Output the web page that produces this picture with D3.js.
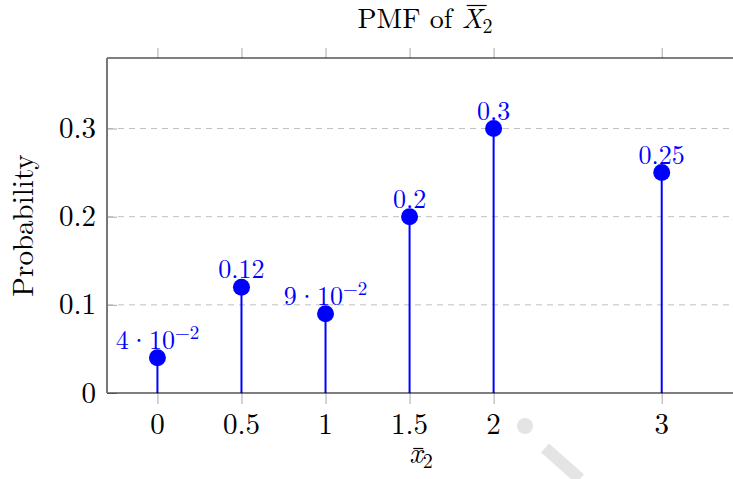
<!DOCTYPE html>
<html>
<head>
<meta charset="utf-8">
<script src="https://cdn.jsdelivr.net/npm/d3@7"></script>
<style>
  body { margin: 0; background: #fff; }
  text { font-family: "Latin Modern Roman", "CMU Serif", "DejaVu Serif", serif; }
</style>
</head>
<body>
<div id="wrapper"></div>
<script>
// data
const xValues = [0, 0.5, 1, 1.5, 2, 3]
const probabilities = [0.04, 0.12, 0.09, 0.2, 0.3, 0.25]
const pointLabels = [["4·10", "−2"], ["0.12"], ["9·10", "−2"], ["0.2"], ["0.3"], ["0.25"]]
const xTicks = [0, 0.5, 1, 1.5, 2, 3]
const yTicks = [0, 0.1, 0.2, 0.3]

const dataset = xValues.map((x, i) => ({ x, p: probabilities[i], label: pointLabels[i] }))

const dimensions = {
  width: 733,
  height: 479,
  margin: { top: 58, right: -80, bottom: 86, left: 107 },
}
dimensions.boundedWidth = dimensions.width - dimensions.margin.left - dimensions.margin.right
dimensions.boundedHeight = dimensions.height - dimensions.margin.top - dimensions.margin.bottom

const svg = d3.select("#wrapper")
  .append("svg")
    .attr("width", dimensions.width)
    .attr("height", dimensions.height)

const bounds = svg.append("g")
    .attr("transform", `translate(${dimensions.margin.left}, ${dimensions.margin.top})`)

// scales
const xScale = d3.scaleLinear()
  .domain([-0.3, 3.9])
  .range([0, dimensions.boundedWidth])

const yScale = d3.scaleLinear()
  .domain([0, 0.38])
  .range([dimensions.boundedHeight, 0])

const blue = "#0000ff"
const tickGray = "#a8a8a8"
const tickFont = "29px"
const labelFont = "26px"

// grid lines
bounds.append("g")
  .selectAll("line")
  .data(yTicks.filter(d => d > 0))
  .join("line")
    .attr("x1", 0)
    .attr("x2", dimensions.boundedWidth)
    .attr("y1", d => yScale(d))
    .attr("y2", d => yScale(d))
    .attr("stroke", "#c0c0c0")
    .attr("stroke-width", 1)
    .attr("stroke-dasharray", "6 5")

// y ticks (inside)
const yAxis = bounds.append("g")
  .call(d3.axisRight(yScale).tickValues(yTicks).tickSize(10).tickFormat(""))
yAxis.select(".domain").remove()
yAxis.selectAll(".tick line").attr("stroke", tickGray)

// y tick labels
bounds.append("g")
  .selectAll("text")
  .data(yTicks)
  .join("text")
    .attr("x", -11)
    .attr("y", d => yScale(d))
    .attr("dy", "0.33em")
    .attr("text-anchor", "end")
    .style("font-size", tickFont)
    .text(d => d === 0 ? "0" : d3.format(".1f")(d))

// x ticks bottom (outside) and top (outside)
const xBottom = bounds.append("g")
  .attr("transform", `translate(0, ${dimensions.boundedHeight})`)
  .call(d3.axisBottom(xScale).tickValues(xTicks).tickSize(11).tickFormat(""))
xBottom.select(".domain").remove()
xBottom.selectAll(".tick line").attr("stroke", tickGray)

const xTop = bounds.append("g")
  .call(d3.axisTop(xScale).tickValues(xTicks).tickSize(10).tickFormat(""))
xTop.select(".domain").remove()
xTop.selectAll(".tick line").attr("stroke", tickGray)

bounds.append("g")
  .selectAll("text")
  .data(xTicks)
  .join("text")
    .attr("x", d => xScale(d))
    .attr("y", dimensions.boundedHeight + 41)
    .attr("text-anchor", "middle")
    .style("font-size", tickFont)
    .text(d => d)

// stems
bounds.append("g")
  .selectAll("line")
  .data(dataset)
  .join("line")
    .attr("x1", d => xScale(d.x))
    .attr("x2", d => xScale(d.x))
    .attr("y1", dimensions.boundedHeight)
    .attr("y2", d => yScale(d.p))
    .attr("stroke", blue)
    .attr("stroke-width", 2)

// frame
bounds.append("line")
  .attr("x1", 0).attr("x2", dimensions.boundedWidth)
  .attr("y1", 0).attr("y2", 0)
  .attr("stroke", "#000").attr("stroke-width", 1.2)
bounds.append("line")
  .attr("x1", 0).attr("x2", dimensions.boundedWidth)
  .attr("y1", dimensions.boundedHeight).attr("y2", dimensions.boundedHeight)
  .attr("stroke", "#000").attr("stroke-width", 1.2)
bounds.append("line")
  .attr("x1", 0).attr("x2", 0)
  .attr("y1", 0).attr("y2", dimensions.boundedHeight)
  .attr("stroke", "#777").attr("stroke-width", 2)

// markers
bounds.append("g")
  .selectAll("circle")
  .data(dataset)
  .join("circle")
    .attr("cx", d => xScale(d.x))
    .attr("cy", d => yScale(d.p))
    .attr("r", 8.5)
    .attr("fill", blue)

// point labels
const labels = bounds.append("g")
  .selectAll("text")
  .data(dataset)
  .join("text")
    .attr("x", d => xScale(d.x))
    .attr("y", d => yScale(d.p) - 9)
    .attr("text-anchor", "middle")
    .attr("fill", blue)
    .style("font-size", labelFont)
labels.append("tspan").text(d => d.label[0])
labels.filter(d => d.label.length > 1)
  .append("tspan")
    .attr("dy", -10)
    .style("font-size", "19px")
    .text(d => d.label[1])

// draw a bar (accent) over a tspan, at a given height
function addBar(tspan, y, shift, trim) {
  const b = tspan.node().getBBox()
  svg.append("line")
    .attr("x1", b.x + shift + trim)
    .attr("x2", b.x + b.width + shift - trim)
    .attr("y1", y)
    .attr("y2", y)
    .attr("stroke", "#000")
    .attr("stroke-width", 1.2)
}

// title
const title = svg.append("text")
    .attr("x", 425)
    .attr("y", 28)
    .attr("text-anchor", "middle")
    .style("font-size", "28px")
title.append("tspan").text("PMF of ")
const titleX = title.append("tspan").style("font-style", "italic").text("X")
title.append("tspan").attr("dy", 5).style("font-size", "20px").text("2")
addBar(titleX, 5.5, 3, 2)

// x axis label
const xLabel = svg.append("text")
    .attr("x", 421)
    .attr("y", 463)
    .attr("text-anchor", "middle")
    .style("font-size", "29px")
const xLabelX = xLabel.append("tspan").style("font-style", "italic").text("x")
xLabel.append("tspan").attr("dy", 5).style("font-size", "20px").text("2")
addBar(xLabelX, 448.5, 1, 3)

// y axis label
svg.append("text")
    .attr("transform", `translate(33, ${dimensions.margin.top + yScale(0.19)}) rotate(-90)`)
    .attr("text-anchor", "middle")
    .style("font-size", "29px")
    .text("Probability")

// faint watermark marks
svg.append("circle")
    .attr("cx", 525).attr("cy", 426).attr("r", 8)
    .attr("fill", "#e4e4e4")
svg.append("path")
    .attr("d", "M545,448 L580,479")
    .attr("stroke", "#e4e4e4").attr("stroke-width", 12)
</script>
</body>
</html>
